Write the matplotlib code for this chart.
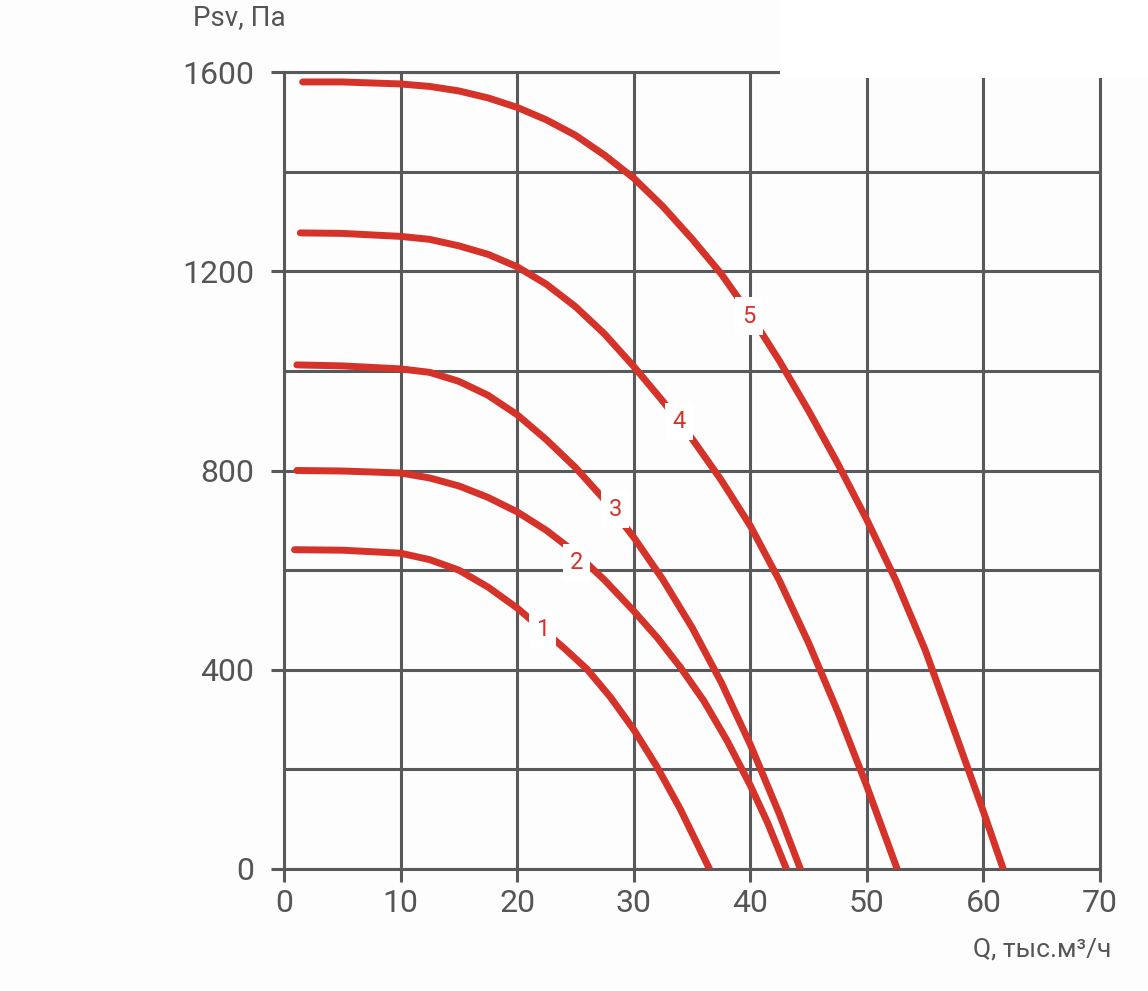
import matplotlib
matplotlib.use('Agg')
import matplotlib.pyplot as plt
from matplotlib.patches import Rectangle
from matplotlib.ticker import MultipleLocator

# curve data (Q in thousand m3/h, Psv in Pa)
q1 = [0.9, 5, 10, 12.5, 15, 17.5, 20, 22.2, 24, 26, 28, 30, 32, 34, 36.5]
p1 = [641, 640, 634, 621, 600, 566, 524, 480, 444, 401, 345, 280, 205, 120, 0]

q2 = [1.1, 5, 10, 12.5, 15, 17.5, 20, 22.5, 25, 27.5, 30, 32, 34, 36, 38, 40, 41.5, 43.1]
p2 = [800, 799, 795, 785, 769, 746, 717, 680, 635, 580, 518, 465, 405, 338, 258, 168, 92, 0]

q3 = [1.1, 5, 10, 12.5, 15, 17.5, 20, 22.5, 25, 27.5, 30, 32.5, 35, 37.5, 40, 42.5, 44.3]
p3 = [1012, 1010, 1004, 997, 979, 951, 912, 862, 806, 741, 666, 581, 485, 375, 250, 110, 0]

q4 = [1.4, 5, 10, 12.5, 15, 17.5, 20, 22.5, 25, 27.5, 30, 32.5, 35, 37.5, 40, 42.5, 45, 47.5, 50, 52.6]
p4 = [1277, 1276, 1270, 1264, 1251, 1234, 1209, 1174, 1129, 1074, 1009, 939, 864, 781, 689, 579, 454, 316, 166, 0]

q5 = [1.6, 5, 10, 12.5, 15, 17.5, 20, 22.5, 25, 27.5, 30, 32.5, 35, 37.5, 40, 42.5,
      45, 47.5, 50, 52.5, 55, 57.5, 60, 61.7]
p5 = [1580, 1580, 1576, 1571, 1562, 1548, 1529, 1504, 1473, 1433, 1387, 1330, 1265, 1195, 1112, 1020,
      920, 814, 701, 579, 440, 278, 115, 0]

curves = [(q1, p1), (q2, p2), (q3, p3), (q4, p4), (q5, p5)]
curve_names = ['1', '2', '3', '4', '5']
label_q = [22.2, 25.1, 28.4, 33.9, 39.9]
label_p = [480, 616, 721, 898, 1110]

red = '#d5322a'
gray = '#58595b'
txt = '#555555'
plt.rcParams['font.family'] = ['Roboto', 'DejaVu Sans']

fig = plt.figure(figsize=(11.48, 9.91), dpi=100, facecolor='#fdfdfd')
ax = fig.add_axes([284 / 1148, 1 - 869 / 991, 816 / 1148, 797 / 991])
ax.set_facecolor('#fdfdfd')

for (q, p), name, lq, lp in zip(curves, curve_names, label_q, label_p):
    ax.plot(q, p, color=red, lw=5, solid_capstyle='round', solid_joinstyle='round', zorder=3)
    ax.text(lq, lp, name, color=red, fontsize=17, ha='center', va='center', zorder=4,
            bbox=dict(facecolor='white', edgecolor='none', boxstyle='square,pad=0.3'))

ax.set_xlim(0, 70)
ax.set_ylim(0, 1600)
ax.xaxis.set_major_locator(MultipleLocator(10))
ax.yaxis.set_major_locator(MultipleLocator(400))
ax.yaxis.set_minor_locator(MultipleLocator(200))
ax.grid(which='both', color=gray, lw=2.2, zorder=1)
ax.set_axisbelow(True)
for s in ax.spines.values():
    s.set_color(gray)
    s.set_linewidth(2.2)

ax.tick_params(which='major', length=9.5, width=2.2, color=gray, labelcolor=txt, labelsize=23)
ax.tick_params(axis='y', which='major', pad=12)
ax.tick_params(axis='x', which='major', pad=5)
ax.tick_params(which='minor', length=0)

fig.text(193 / 1148, 1 - 18 / 991, 'Psv, Па', color=txt, fontsize=20, ha='left', va='center')
fig.text(1111 / 1148, 1 - 950 / 991, 'Q, тыс.м³/ч', color=txt, fontsize=19, ha='right', va='center')

# white patch in the top-right corner, as on the original
fig.patches.append(Rectangle((780 / 1148, 1 - 78 / 991), 1 - 780 / 1148, 78 / 991,
                             transform=fig.transFigure, facecolor='white', edgecolor='none', zorder=10))

fig.savefig('out.png', dpi=100, facecolor=fig.get_facecolor())
